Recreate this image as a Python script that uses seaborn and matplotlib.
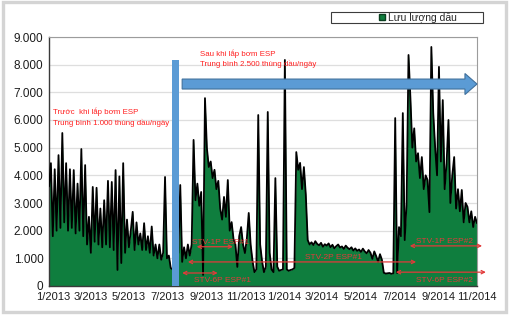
import numpy as np
import pandas as pd
import matplotlib
matplotlib.use("Agg")
import matplotlib.pyplot as plt
import matplotlib.dates as mdates
from matplotlib.patches import FancyArrow, Rectangle
from matplotlib.lines import Line2D
from matplotlib.ticker import FuncFormatter
import seaborn as sns

# Oil rate (barrels/day), one reading every 3 days starting 26/12/2012
start_date = "2012-12-26"
step_days = 3

flow_jan_feb_2013 = [3600, 4440, 1800, 4220, 2000, 4730, 2100, 5530, 2300, 4440, 2000,
                     4220, 2100, 4190, 1900, 3700, 2000, 4950, 1800, 4370, 1500]
flow_mar_apr_2013 = [2500, 1200, 3580, 1600, 3550, 1500, 2800, 1400, 3100, 1500, 3800,
                     1400, 3760, 1300, 4190, 580, 3960, 830, 4440, 1200, 2400]
flow_may_jul_2013 = [1400, 2000, 2680, 1300, 2300, 1500, 1900, 1300, 2270, 1300, 1800,
                     1200, 2150, 1100, 1500, 1000, 1500, 950, 1200, 3940, 1000, 1100, 650]
flow_jul_aug_2013 = [600, 900, 1000, 1200, 3650, 870, 1400, 1000, 1500, 1100, 1500,
                     5280, 3100, 3700, 2900, 3400, 400, 6790]
flow_sep_dec_2013 = [4990, 4300, 4500, 3900, 4200, 3500, 3800, 2800, 2400, 3220, 2500,
                     3830, 2000, 2310, 1700, 1500, 690, 1800, 2130, 1500, 1190, 1700,
                     2640, 1500, 900, 500, 600]
flow_dec_feb_2014 = [6180, 1500, 900, 500, 700, 6290, 1200, 600, 500, 3900, 700, 550,
                     580, 600, 8170, 600, 550, 580, 600, 650, 4840, 4200, 4450, 3500,
                     4300, 3300, 1660, 1500]
flow_mar_jun_2014 = [1580, 1480, 1620, 1520, 1470, 1560, 1420, 1510, 1460, 1540,
                     1400, 1490, 1360, 1440, 1500, 1390, 1430, 1340, 1460, 1380,
                     1330, 1400, 1280, 1360, 1270, 1320, 1230, 1350, 1250, 1180,
                     1300, 1200, 980, 1250, 1080, 880, 1150, 950,
                     480, 450, 460, 470, 440, 460]
flow_jul_oct_2014 = [6070, 470, 2130, 1800, 6250, 1660, 3000, 8350, 6790, 5000, 5700,
                     4500, 4800, 3900, 4660, 3500, 4000, 3830, 2670, 8640, 6250, 5000,
                     4000, 7920, 4500, 6720, 3500, 4440, 6000, 3000, 4000, 4660, 2800,
                     3500, 2700, 3470, 2300, 3000, 2860, 2300, 2700, 2130, 2500, 2270]

tick_dates = ["2013-01-01", "2013-03-01", "2013-05-01", "2013-07-01", "2013-09-01",
              "2013-11-01", "2014-01-01", "2014-03-01", "2014-05-01", "2014-07-01",
              "2014-09-01", "2014-11-01"]
tick_labels = ["1/2013", "3/2013", "5/2013", "7/2013", "9/2013", "11/2013",
               "1/2014", "3/2014", "5/2014", "7/2014", "9/2014", "11/2014"]

# Pump installation events: (label, start, end, rate level of the span)
pump_spans = [
    ("STV-1P ESP#1", "2013-08-16", "2013-10-12", 1420, "above"),
    ("STV-2P ESP#1", "2013-08-02", "2014-07-28", 870, "above"),
    ("STV-6P ESP#1", "2013-07-24", "2013-09-18", 470, "below"),
    ("STV-1P ESP#2", "2014-07-18", "2014-11-09", 1450, "above"),
    ("STV-6P ESP#2", "2014-06-26", "2014-11-15", 500, "below"),
]
pump_label_dates = ["2013-09-23", "2014-03-19", "2013-09-26", "2014-09-10", "2014-09-10"]

GREEN = "#0F7E3E"
BLUE = "#5B9BD5"
BLUE_EDGE = "#41719C"
RED = "#FF2020"
RED_DARK = "#E23A3A"

sns.set_theme(style="white")
plt.rcParams["font.family"] = ["Liberation Sans", "DejaVu Sans"]

values = np.concatenate([flow_jan_feb_2013, flow_mar_apr_2013, flow_may_jul_2013,
                         flow_jul_aug_2013, flow_sep_dec_2013, flow_dec_feb_2014,
                         flow_mar_jun_2014, flow_jul_oct_2014]).astype(float)
dates = pd.date_range(start_date, periods=len(values), freq=f"{step_days}D")
df = pd.DataFrame({"Ngày": dates, "Lưu lượng dầu": values})

fig = plt.figure(figsize=(5.09, 3.24), dpi=100)
ax = fig.add_axes([49 / 509, 38 / 324, 428 / 509, 249 / 324])

ax.fill_between(df["Ngày"], df["Lưu lượng dầu"], color=GREEN, lw=0, zorder=2)
sns.lineplot(data=df, x="Ngày", y="Lưu lượng dầu", color="black", lw=1.3, ax=ax, zorder=3)
ax.set_xlabel("")
ax.set_ylabel("")

d2n = lambda s: mdates.date2num(pd.Timestamp(s))

ax.set_xlim(d2n(dates[0]), d2n(dates[-1]))
ax.set_ylim(0, 9000)
ax.set_xticks([d2n(d) for d in tick_dates], tick_labels)
ax.set_yticks(range(0, 9001, 1000))
ax.yaxis.set_major_formatter(FuncFormatter(lambda v, p: f"{int(v):,}".replace(",", ".")))
ax.tick_params(axis="both", length=0, labelsize=8, colors="#1C1C1C")
ax.tick_params(axis="x", pad=4.5)
ax.tick_params(axis="y", pad=4)
for lab in ax.get_yticklabels():
    lab.set_fontsize(8.5)
ax.grid(axis="y", color="#DEDEDE", lw=0.9)
ax.set_axisbelow(True)
for side in ("top", "right"):
    ax.spines[side].set_color("#9C9C9C")
    ax.spines[side].set_linewidth(0.8)
for side in ("left", "bottom"):
    ax.spines[side].set_color("#3A3A3A")
    ax.spines[side].set_linewidth(1.0)

# Blue marker for the installation date
ax.bar(d2n("2013-07-08"), 8170, width=10.6, align="edge", color=BLUE, lw=0, zorder=5)

# Blue arrow: period after installation
arrow_start = d2n("2013-07-24")
arrow_tip = d2n("2014-11-01")
ax.add_patch(FancyArrow(arrow_start, 7300, arrow_tip - arrow_start, 0, width=360,
                        head_width=760, head_length=19, length_includes_head=True,
                        fc=BLUE, ec=BLUE_EDGE, lw=0.8, zorder=6, clip_on=False))

ax.text(d2n("2013-01-01"), 6100, "Trước  khi lắp bơm ESP\nTrung bình 1.000 thùng dầu/ngày",
        color=RED, fontsize=5.7, va="center", ha="left", linespacing=1.4, zorder=7)
ax.text(d2n("2013-08-21"), 8210, "Sau khi lắp bơm ESP\nTrung bình 2.500 thùng dầu/ngày",
        color=RED, fontsize=5.7, va="center", ha="left", linespacing=1.4, zorder=7)

for (label, d0, d1, level, side), ld in zip(pump_spans, pump_label_dates):
    ax.annotate("", xy=(d2n(d1), level), xytext=(d2n(d0), level),
                arrowprops=dict(arrowstyle="<->", color=RED_DARK, lw=0.9,
                                shrinkA=0, shrinkB=0, mutation_scale=6),
                annotation_clip=False, zorder=7)
    if side == "above":
        ax.text(d2n(ld), level + 40, label, color=RED_DARK, fontsize=6,
                ha="center", va="bottom", zorder=7)
    else:
        ax.text(d2n(ld), level - 160, label, color=RED_DARK, fontsize=6,
                ha="center", va="top", zorder=7)

# Legend with its own frame
fig.patches.append(Rectangle((331 / 509, (324 - 23) / 324), 152 / 509, 11 / 324,
                             transform=fig.transFigure, fill=False,
                             ec="#3C3C3C", lw=0.8))
handle = Line2D([], [], marker="s", ls="none", mfc=GREEN, mec="#0A3F1F", ms=4.2,
                label="Lưu lượng dầu")
ax.legend(handles=[handle], loc="center", bbox_to_anchor=(417 / 509, 1 - 17.5 / 324),
          bbox_transform=fig.transFigure, frameon=False, fontsize=7.5,
          handletextpad=0.2, handlelength=0.8, borderpad=0, borderaxespad=0)

# Light grey outer frame
fig.patches.append(Rectangle((2.5 / 509, (324 - 312) / 324), 503 / 509, 309.5 / 324,
                             transform=fig.transFigure, fill=False, ec="#D4D4D4", lw=2.4))

fig.savefig("out.png", dpi=100)
